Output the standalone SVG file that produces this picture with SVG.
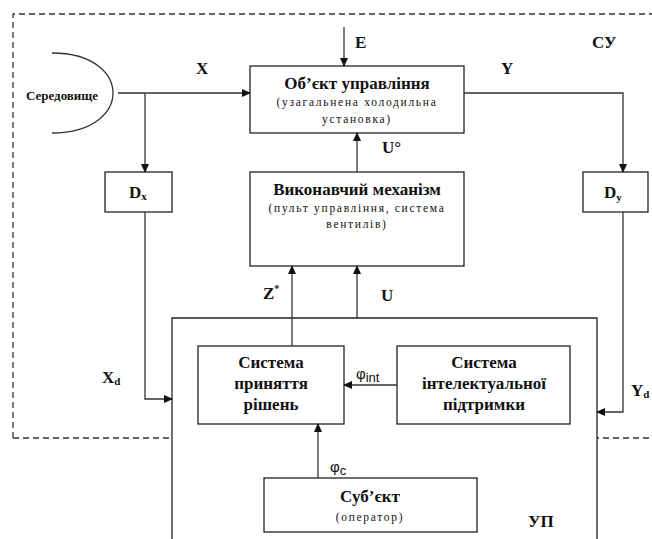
<svg xmlns="http://www.w3.org/2000/svg" width="652" height="539" viewBox="0 0 652 539" font-family="'Liberation Serif', 'DejaVu Serif', serif">
<style>
.bg{fill:#fff}
.box{fill:#fff;stroke:#222;stroke-width:1.3}
.ln{fill:none;stroke:#333;stroke-width:1.3}
.dash{fill:none;stroke:#333;stroke-width:1.3;stroke-dasharray:6,4}
.t{font-family:'Liberation Serif','DejaVu Serif',serif;fill:#111;text-anchor:middle}
.b{font-weight:bold;font-size:17px}
.s{font-size:11.5px;letter-spacing:1.7px}
.lb{font-family:'Liberation Serif','DejaVu Serif',serif;font-weight:bold;font-size:17px;fill:#111}
.ph{font-family:'Liberation Sans',Arial,sans-serif;font-size:15px;fill:#111}
</style>
<defs>
<marker id="ar" markerWidth="9" markerHeight="8" refX="8" refY="4" orient="auto" markerUnits="userSpaceOnUse">
<path d="M0,0 L9,4 L0,8 z" fill="#111"/>
</marker>
</defs>
<rect class="bg" width="652" height="539"/>
<g id="boundary-su">
<path class="dash" d="M13,438 L13,14 L652,14"/>
<path class="dash" d="M13,438 L652,438"/>
<text class="lb" x="592" y="48">СУ</text>
</g>
<g id="boundary-up">
<path class="box" d="M172,545 L172,318 L597,318 L597,545" fill="none"/>
<text class="lb" x="528" y="527">УП</text>
</g>
<g id="environment">
<path class="ln" d="M52,53 C95,53 113,75 113,93 C113,111 95,133 52,133"/>
<text class="t" x="62" y="100" style="font-weight:bold;font-size:13px">Середовище</text>
</g>
<g id="object">
<rect class="box" x="250" y="66" width="214" height="67"/>
<text class="t b" x="357" y="89">Об’єкт управління</text>
<text class="t s" x="357" y="106">(узагальнена холодильна</text>
<text class="t s" x="357" y="123">установка)</text>
</g>
<g id="actuator">
<rect class="box" x="250" y="172" width="214" height="94"/>
<text class="t b" x="357" y="195">Виконавчий механізм</text>
<text class="t s" x="357" y="212">(пульт управління, система</text>
<text class="t s" x="357" y="228">вентилів)</text>
</g>
<g id="dx">
<rect class="box" x="105" y="172" width="67" height="40"/>
<text class="lb" x="129" y="198">D<tspan font-size="11" dy="2">x</tspan></text>
</g>
<g id="dy">
<rect class="box" x="583" y="172" width="65" height="40"/>
<text class="lb" x="604" y="198">D<tspan font-size="11" dy="3">y</tspan></text>
</g>
<g id="decision">
<rect class="box" x="198" y="346" width="146" height="78"/>
<text class="t b" x="271" y="368">Система</text>
<text class="t b" x="271" y="389">приняття</text>
<text class="t b" x="271" y="410">рішень</text>
</g>
<g id="intellect">
<rect class="box" x="397" y="346" width="173" height="78"/>
<text class="t b" x="484" y="368">Система</text>
<text class="t b" x="484" y="389">інтелектуальної</text>
<text class="t b" x="484" y="410">підтримки</text>
</g>
<g id="subject">
<rect class="box" x="264" y="478" width="213" height="54"/>
<text class="t b" x="370" y="502">Суб’єкт</text>
<text class="t s" x="370" y="521">(оператор)</text>
</g>
<g id="connectors">
<path class="ln" d="M118,93 L250,93" marker-end="url(#ar)"/>
<path class="ln" d="M145,93 L145,172" marker-end="url(#ar)"/>
<path class="ln" d="M344,27 L344,66" marker-end="url(#ar)"/>
<path class="ln" d="M464,93 L623,93 L623,172" marker-end="url(#ar)"/>
<path class="ln" d="M357,172 L357,133" marker-end="url(#ar)"/>
<path class="ln" d="M145,212 L145,399 L172,399" marker-end="url(#ar)"/>
<path class="ln" d="M623,212 L623,412 L597,412" marker-end="url(#ar)"/>
<path class="ln" d="M292,346 L292,266" marker-end="url(#ar)"/>
<path class="ln" d="M357,318 L357,266" marker-end="url(#ar)"/>
<path class="ln" d="M397,385 L344,385" marker-end="url(#ar)"/>
<path class="ln" d="M318,478 L318,424" marker-end="url(#ar)"/>
<text class="lb" x="196" y="74">X</text>
<text class="lb" x="501" y="74">Y</text>
<text class="lb" x="355" y="48">E</text>
<text class="lb" x="382" y="153">U°</text>
<text class="lb" x="381" y="301">U</text>
<text class="lb" x="263" y="299">Z<tspan font-size="10" dy="-7">*</tspan></text>
<text class="lb" x="102" y="383">X<tspan font-size="11" dy="2">d</tspan></text>
<text class="lb" x="631" y="396">Y<tspan font-size="11" dy="2">d</tspan></text>
<text class="ph" x="356" y="379">φ<tspan font-size="13" dy="3">int</tspan></text>
<text class="ph" x="330" y="472">φ<tspan font-size="13" dy="3">c</tspan></text>
</g>
</svg>
